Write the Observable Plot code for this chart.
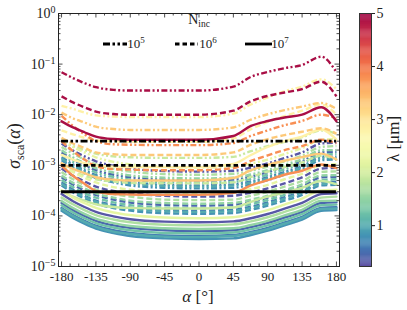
<!DOCTYPE html>
<html><head><meta charset="utf-8">
<script src="https://cdn.jsdelivr.net/npm/d3@7"></script>
<script src="https://cdn.jsdelivr.net/npm/@observablehq/plot@0.6"></script>
<style>
body{margin:0;background:#fff;}
#wrap{position:relative;width:407px;height:310px;overflow:hidden;}
#wrap svg{position:absolute;left:0;top:0;}
#wrap svg text{font-family:'Liberation Serif','DejaVu Serif',serif;}
</style></head><body><div id="wrap"></div>
<script>
// ---------- data ----------
const angles = [-180,-165,-150,-135,-112,-90,-45,0,45,68,90,112,135,160,180];
const nincList = [1e5, 1e6, 1e7];
const refLevels = [3e-3, 1e-3, 3e-4];
const xTicks = [-180,-135,-90,-45,0,45,90,135,180];
const yTicks = [1e-5,1e-4,1e-3,1e-2,1e-1,1];
const cbTicks = [1,2,3,4,5];

const l030_1e5 = [2.7e-3,1.95e-3,1.5e-3,1.2e-3,9.8e-4,8.6e-4,7.7e-4,7.5e-4,7.8e-4,9.0e-4,1.09e-3,1.39e-3,1.8e-3,2.7e-3,2.8e-3];
const l030_1e6 = [8.6e-4,6.2e-4,4.8e-4,3.8e-4,3.1e-4,2.8e-4,2.5e-4,2.4e-4,2.5e-4,2.9e-4,3.5e-4,4.4e-4,5.8e-4,8.6e-4,8.9e-4];
const l030_1e7 = [2.7e-4,1.95e-4,1.5e-4,1.2e-4,9.8e-5,8.6e-5,7.7e-5,7.5e-5,7.8e-5,9.0e-5,1.09e-4,1.39e-4,1.8e-4,2.7e-4,2.8e-4];

const l045_1e5 = [1.8e-3,1.3e-3,1.0e-3,8.0e-4,6.5e-4,5.8e-4,5.2e-4,5.0e-4,5.2e-4,6.0e-4,7.3e-4,9.3e-4,1.2e-3,1.8e-3,1.85e-3];
const l045_1e6 = [5.8e-4,4.2e-4,3.2e-4,2.6e-4,2.1e-4,1.84e-4,1.65e-4,1.6e-4,1.66e-4,1.9e-4,2.3e-4,3.0e-4,3.8e-4,5.8e-4,5.9e-4];
const l045_1e7 = [1.8e-4,1.3e-4,1.0e-4,8.0e-5,6.5e-5,5.8e-5,5.2e-5,5.0e-5,5.2e-5,6.0e-5,7.3e-5,9.3e-5,1.2e-4,1.8e-4,1.85e-4];

const l060_1e5 = [1.44e-3,1.04e-3,8.0e-4,6.4e-4,5.2e-4,4.6e-4,4.1e-4,4.0e-4,4.2e-4,4.8e-4,5.8e-4,7.4e-4,9.6e-4,1.44e-3,1.48e-3];
const l060_1e6 = [4.6e-4,3.3e-4,2.5e-4,2.0e-4,1.65e-4,1.46e-4,1.31e-4,1.27e-4,1.32e-4,1.52e-4,1.84e-4,2.35e-4,3.0e-4,4.6e-4,4.7e-4];
const l060_1e7 = [1.44e-4,1.04e-4,8.0e-5,6.4e-5,5.2e-5,4.6e-5,4.1e-5,4.0e-5,4.2e-5,4.8e-5,5.8e-5,7.4e-5,9.6e-5,1.44e-4,1.48e-4];

const l080_1e5 = [1.26e-3,9.1e-4,7.0e-4,5.6e-4,4.6e-4,4.0e-4,3.6e-4,3.5e-4,3.6e-4,4.2e-4,5.1e-4,6.5e-4,8.4e-4,1.26e-3,1.3e-3];
const l080_1e6 = [4.0e-4,2.9e-4,2.2e-4,1.76e-4,1.43e-4,1.27e-4,1.13e-4,1.1e-4,1.14e-4,1.32e-4,1.6e-4,2.0e-4,2.6e-4,4.0e-4,4.1e-4];
const l080_1e7 = [1.26e-4,9.1e-5,7.0e-5,5.6e-5,4.6e-5,4.0e-5,3.6e-5,3.5e-5,3.6e-5,4.2e-5,5.1e-5,6.5e-5,8.4e-5,1.26e-4,1.3e-4];

const l100_1e5 = [1.37e-3,9.9e-4,7.6e-4,6.1e-4,4.9e-4,4.4e-4,3.9e-4,3.8e-4,4.0e-4,4.6e-4,5.5e-4,7.0e-4,9.1e-4,1.37e-3,1.4e-3];
const l100_1e6 = [4.3e-4,3.1e-4,2.4e-4,1.92e-4,1.56e-4,1.38e-4,1.24e-4,1.2e-4,1.25e-4,1.44e-4,1.74e-4,2.2e-4,2.9e-4,4.3e-4,4.4e-4];
const l100_1e7 = [1.37e-4,9.9e-5,7.6e-5,6.1e-5,4.9e-5,4.4e-5,3.9e-5,3.8e-5,4.0e-5,4.6e-5,5.5e-5,7.0e-5,9.1e-5,1.37e-4,1.4e-4];

const l125_1e5 = [1.62e-3,1.17e-3,9.0e-4,7.2e-4,5.9e-4,5.2e-4,4.6e-4,4.5e-4,4.7e-4,5.4e-4,6.5e-4,8.3e-4,1.08e-3,1.62e-3,1.67e-3];
const l125_1e6 = [5.1e-4,3.7e-4,2.8e-4,2.3e-4,1.85e-4,1.63e-4,1.46e-4,1.42e-4,1.48e-4,1.7e-4,2.06e-4,2.6e-4,3.4e-4,5.1e-4,5.3e-4];
const l125_1e7 = [1.62e-4,1.17e-4,9.0e-5,7.2e-5,5.9e-5,5.2e-5,4.6e-5,4.5e-5,4.7e-5,5.4e-5,6.5e-5,8.3e-5,1.08e-4,1.62e-4,1.67e-4];

const l150_1e5 = [1.98e-3,1.43e-3,1.1e-3,8.8e-4,7.2e-4,6.3e-4,5.7e-4,5.5e-4,5.7e-4,6.6e-4,8.0e-4,1.02e-3,1.32e-3,1.98e-3,2.0e-3];
const l150_1e6 = [6.3e-4,4.5e-4,3.5e-4,2.8e-4,2.3e-4,2.0e-4,1.8e-4,1.74e-4,1.81e-4,2.1e-4,2.5e-4,3.2e-4,4.2e-4,6.3e-4,6.4e-4];
const l150_1e7 = [1.98e-4,1.43e-4,1.1e-4,8.8e-5,7.2e-5,6.3e-5,5.7e-5,5.5e-5,5.7e-5,6.6e-5,8.0e-5,1.02e-4,1.32e-4,1.98e-4,2.0e-4];

const l170_1e5 = [2.3e-3,1.7e-3,1.3e-3,1.04e-3,8.5e-4,7.5e-4,6.7e-4,6.5e-4,6.8e-4,7.8e-4,9.4e-4,1.2e-3,1.56e-3,2.3e-3,2.4e-3];
const l170_1e6 = [7.4e-4,5.3e-4,4.1e-4,3.3e-4,2.7e-4,2.4e-4,2.1e-4,2.05e-4,2.1e-4,2.5e-4,3.0e-4,3.8e-4,4.9e-4,7.4e-4,7.6e-4];
const l170_1e7 = [2.3e-4,1.7e-4,1.3e-4,1.04e-4,8.5e-5,7.5e-5,6.7e-5,6.5e-5,6.8e-5,7.8e-5,9.4e-5,1.2e-4,1.56e-4,2.3e-4,2.4e-4];

const l190_1e5 = [3.1e-3,2.4e-3,2.0e-3,1.7e-3,1.5e-3,1.44e-3,1.4e-3,1.4e-3,1.47e-3,1.9e-3,2.4e-3,2.9e-3,3.6e-3,4.9e-3,4.2e-3];
const l190_1e6 = [9.7e-4,7.5e-4,6.2e-4,5.3e-4,4.8e-4,4.5e-4,4.4e-4,4.4e-4,4.6e-4,5.9e-4,7.5e-4,9.2e-4,1.14e-3,1.54e-3,1.32e-3];
const l190_1e7 = [3.1e-4,2.4e-4,2.0e-4,1.7e-4,1.5e-4,1.44e-4,1.4e-4,1.4e-4,1.47e-4,1.9e-4,2.4e-4,2.9e-4,3.6e-4,4.9e-4,4.2e-4];

const l220_1e5 = [3.2e-3,2.3e-3,1.8e-3,1.44e-3,1.17e-3,1.04e-3,9.3e-4,9.0e-4,9.4e-4,1.08e-3,1.3e-3,1.67e-3,2.2e-3,3.2e-3,3.3e-3];
const l220_1e6 = [1.0e-3,7.4e-4,5.7e-4,4.6e-4,3.7e-4,3.3e-4,2.9e-4,2.85e-4,3.0e-4,3.4e-4,4.1e-4,5.3e-4,6.8e-4,1.0e-3,1.05e-3];
const l220_1e7 = [3.2e-4,2.3e-4,1.8e-4,1.44e-4,1.17e-4,1.04e-4,9.3e-5,9.0e-5,9.4e-5,1.08e-4,1.3e-4,1.67e-4,2.2e-4,3.2e-4,3.3e-4];

const l280_1e5 = [1.5e-2,1.3e-2,1.1e-2,9.7e-3,9.2e-3,9.0e-3,9.0e-3,9.0e-3,1.05e-2,1.6e-2,2.2e-2,2.9e-2,3.6e-2,5.0e-2,3.2e-2];
const l280_1e6 = [4.9e-3,4.1e-3,3.5e-3,3.1e-3,3.0e-3,2.9e-3,2.9e-3,2.9e-3,3.4e-3,5.2e-3,7.2e-3,9.4e-3,1.2e-2,1.6e-2,1.0e-2];
const l280_1e7 = [1.6e-3,1.3e-3,1.1e-3,9.9e-4,9.4e-4,9.2e-4,9.2e-4,9.2e-4,1.07e-3,1.6e-3,2.3e-3,3.0e-3,3.7e-3,5.1e-3,3.2e-3];

const l330_1e5 = [1.1e-2,8.5e-3,7.0e-3,5.8e-3,5.2e-3,5.0e-3,5.0e-3,5.0e-3,5.6e-3,8.0e-3,1.02e-2,1.23e-2,1.45e-2,1.7e-2,1.3e-2];
const l330_1e6 = [3.5e-3,2.7e-3,2.2e-3,1.8e-3,1.65e-3,1.6e-3,1.6e-3,1.6e-3,1.8e-3,2.55e-3,3.3e-3,3.95e-3,4.6e-3,5.4e-3,4.2e-3];
const l330_1e7 = [1.1e-3,8.5e-4,7.0e-4,5.8e-4,5.2e-4,5.0e-4,5.0e-4,5.0e-4,5.6e-4,8.0e-4,1.02e-3,1.23e-3,1.45e-3,1.7e-3,1.3e-3];

const l380_1e5 = [9.5e-3,6.0e-3,4.1e-3,3.0e-3,2.6e-3,2.55e-3,2.5e-3,2.5e-3,2.75e-3,3.8e-3,4.9e-3,6.2e-3,7.5e-3,1.0e-2,8.5e-3];
const l380_1e6 = [3.0e-3,1.9e-3,1.3e-3,9.6e-4,8.4e-4,8.2e-4,8.0e-4,8.0e-4,8.8e-4,1.22e-3,1.57e-3,2.0e-3,2.4e-3,3.2e-3,2.7e-3];
const l380_1e7 = [9.9e-4,6.2e-4,4.3e-4,3.1e-4,2.7e-4,2.65e-4,2.6e-4,2.6e-4,2.85e-4,4.0e-4,5.1e-4,6.5e-4,7.8e-4,1.04e-3,8.8e-4];

const l500_1e5 = [6.9e-2,5.3e-2,4.2e-2,3.5e-2,3.1e-2,3.0e-2,3.0e-2,3.0e-2,3.6e-2,5.6e-2,7.0e-2,8.3e-2,9.6e-2,1.4e-1,6.9e-2];
const l500_1e6 = [2.3e-2,1.75e-2,1.4e-2,1.15e-2,1.03e-2,1.0e-2,1.0e-2,1.0e-2,1.2e-2,1.85e-2,2.35e-2,2.75e-2,3.2e-2,4.5e-2,2.3e-2];
const l500_1e7 = [7.4e-3,5.6e-3,4.5e-3,3.7e-3,3.3e-3,3.2e-3,3.2e-3,3.2e-3,3.8e-3,6.0e-3,7.5e-3,8.8e-3,1.0e-2,1.4e-2,7.4e-3];

// wavelength [um] -> series for N = 1e5, 1e6, 1e7
const seriesTable = [
  [0.3,  l030_1e5, l030_1e6, l030_1e7],
  [0.45, l045_1e5, l045_1e6, l045_1e7],
  [0.6,  l060_1e5, l060_1e6, l060_1e7],
  [0.8,  l080_1e5, l080_1e6, l080_1e7],
  [1.0,  l100_1e5, l100_1e6, l100_1e7],
  [1.25, l125_1e5, l125_1e6, l125_1e7],
  [1.5,  l150_1e5, l150_1e6, l150_1e7],
  [1.7,  l170_1e5, l170_1e6, l170_1e7],
  [1.9,  l190_1e5, l190_1e6, l190_1e7],
  [2.2,  l220_1e5, l220_1e6, l220_1e7],
  [2.8,  l280_1e5, l280_1e6, l280_1e7],
  [3.3,  l330_1e5, l330_1e6, l330_1e7],
  [3.8,  l380_1e5, l380_1e6, l380_1e7],
  [4.9,  l500_1e5, l500_1e6, l500_1e7]
];

// ---------- styling ----------
const FONT = "'Liberation Serif', 'DejaVu Serif', serif";
const W = 407, H = 310, mL = 58, mR = 68, mT = 13, mB = 44;
const FW = W - mL - mR, FH = H - mT - mB;
const dashOf = {1e5: "6,2.4,2,2.4,2,2.4", 1e6: "6,3", 1e7: null};
const refDash = ["7,2.5,2.5,2.5,2.5,2.5", "4.5,3", null];
const colorScale = {type: "linear", domain: [0.23, 5], scheme: "spectral", reverse: true};

const lineMarks = [];
for (const [lam, ...arrs] of seriesTable) {
  arrs.forEach((arr, k) => {
    const n = nincList[k];
    const rows = angles.map((a, i) => ({a, v: arr[i], lam}));
    lineMarks.push(Plot.line(rows, {
      x: "a", y: "v", stroke: "lam", strokeWidth: 2.4, curve: "monotone-x",
      strokeDasharray: dashOf[n] || undefined,
      strokeLinecap: dashOf[n] ? "butt" : "round", strokeLinejoin: "round"
    }));
  });
}

const refMarks = refLevels.map((lv, i) => Plot.ruleY([lv], {
  x1: angles[0], x2: angles[angles.length - 1], stroke: "black", strokeWidth: 2.8,
  strokeDasharray: refDash[i] || undefined
}));

// tick positions (axis decoration)
const xMinor = d3.range(-180, 180.1, 11.25).filter(d => !xTicks.includes(d));
const yMinor = [];
for (let e = -5; e < 0; e++) for (let k = 2; k <= 9; k++) yMinor.push(k * Math.pow(10, e));

const tickStyle = {stroke: "#222", strokeWidth: 0.8};
const plot = Plot.plot({
  width: W, height: H, marginLeft: mL, marginRight: mR, marginTop: mT, marginBottom: mB,
  x: {domain: [-184, 184]},
  y: {type: "log", domain: [1e-5, 1]},
  color: colorScale,
  style: {fontFamily: FONT, fontSize: "13px", background: "white", color: "#222"},
  marks: [
    ...lineMarks,
    ...refMarks,
    Plot.frame({stroke: "#222", strokeWidth: 1}),
    Plot.tickX(xTicks, {x: d => d, insetTop: FH - 4.5, ...tickStyle}),
    Plot.tickX(xTicks, {x: d => d, insetBottom: FH - 4.5, ...tickStyle}),
    Plot.tickX(xMinor, {x: d => d, insetTop: FH - 2.5, ...tickStyle}),
    Plot.tickX(xMinor, {x: d => d, insetBottom: FH - 2.5, ...tickStyle}),
    Plot.tickY(yTicks, {y: d => d, insetRight: FW - 4.5, ...tickStyle}),
    Plot.tickY(yTicks, {y: d => d, insetLeft: FW - 4.5, ...tickStyle}),
    Plot.tickY(yMinor, {y: d => d, insetRight: FW - 2.5, ...tickStyle}),
    Plot.tickY(yMinor, {y: d => d, insetLeft: FW - 2.5, ...tickStyle}),
    Plot.axisX({ticks: xTicks, tickSize: 0, tickPadding: 5, tickFormat: d => String(d), label: null, fontSize: 13}),
    Plot.axisY({ticks: yTicks, tickSize: 0, tickPadding: 3, tickFormat: d => "p" + Math.round(Math.log10(d)), label: null, fontSize: 14})
  ]
});

const wrap = document.getElementById("wrap");
wrap.appendChild(plot);
const svg = d3.select(plot);

// y tick labels as 10^e
svg.selectAll('g[aria-label="y-axis tick label"] text').each(function () {
  const t = d3.select(this);
  const e = parseInt(t.text().slice(1), 10);
  t.text(null);
  t.append("tspan").text("10");
  t.append("tspan").attr("dy", "-0.45em").attr("font-size", 10).text(e < 0 ? "\u2212" + (-e) : String(e));
});

// axis labels
const ylab = svg.append("text").attr("font-size", 18).attr("fill", "#222")
  .attr("text-anchor", "middle").attr("transform", "translate(20,146) rotate(-90)");
ylab.append("tspan").attr("font-style", "italic").text("σ");
ylab.append("tspan").attr("font-size", 12).attr("dy", 4).text("sca");
ylab.append("tspan").attr("dy", -4).text("(");
ylab.append("tspan").attr("font-style", "italic").text("α");
ylab.append("tspan").text(")");

const xlab = svg.append("text").attr("font-size", 17).attr("fill", "#222")
  .attr("text-anchor", "middle").attr("x", 198).attr("y", 302);
xlab.append("tspan").attr("font-style", "italic").text("α");
xlab.append("tspan").text(" [°]");

// legend (N_inc)
const lg = svg.append("g").attr("fill", "#222");
const lt = lg.append("text").attr("x", 199).attr("y", 24).attr("text-anchor", "middle").attr("font-size", 14);
lt.append("tspan").text("N");
lt.append("tspan").attr("font-size", 9.5).attr("dy", 3).text("inc");
const legendPos = [[103, 127, 136], [175, 198, 208], [245, 272, 280]];
nincList.forEach((n, i) => {
  const [x0, x1, tx] = legendPos[i];
  lg.append("line").attr("x1", x0).attr("x2", x1).attr("y1", 44).attr("y2", 44)
    .attr("stroke", "black").attr("stroke-width", 2.8)
    .attr("stroke-dasharray", refDash[i] || null);
  const tt = lg.append("text").attr("x", tx).attr("y", 48).attr("font-size", 13);
  tt.append("tspan").text("10");
  tt.append("tspan").attr("dy", -5).attr("font-size", 9).text(String(Math.round(Math.log10(n))));
});

// ---------- colorbar ----------
const cbStep = 0.02;
const cbBins = d3.range(0.23, 5, cbStep);
const cb = Plot.plot({
  width: W, height: H, marginLeft: 359, marginRight: 36, marginTop: mT, marginBottom: mB,
  x: {domain: [0, 1], axis: null},
  y: {domain: [0.23, 5]},
  color: colorScale,
  style: {fontFamily: FONT, fontSize: "13px", background: "transparent", color: "#222"},
  marks: [
    Plot.rect(cbBins, {x1: 0, x2: 1, y1: d => d, y2: d => Math.min(5, d + cbStep * 1.3), fill: d => d + cbStep / 2}),
    Plot.frame({stroke: "#333", strokeWidth: 1}),
    Plot.axisY({anchor: "right", ticks: cbTicks, tickSize: 3, tickPadding: 2, tickFormat: d => String(d), label: null, fontSize: 14})
  ]
});
wrap.appendChild(cb);
const cbl = d3.select(cb).append("text").attr("font-size", 17).attr("fill", "#222")
  .attr("text-anchor", "middle").attr("transform", "translate(399,139) rotate(-90)");
cbl.append("tspan").text("λ [μm]");
</script></body></html>
